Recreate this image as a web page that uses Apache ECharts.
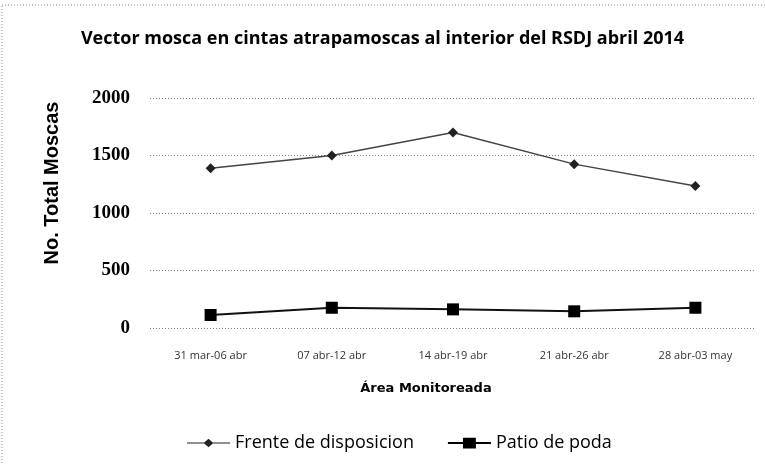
<!DOCTYPE html>
<html>
<head>
<meta charset="utf-8">
<script src="https://cdn.jsdelivr.net/npm/echarts@6/dist/echarts.min.js"></script>
<style>
  html, body { margin: 0; padding: 0; background: #fff; }
  #chart { width: 765px; height: 465px; }
</style>
</head>
<body>
<div id="chart"></div>
<script>
// datos
const categorias = ['31 mar-06 abr', '07 abr-12 abr', '14 abr-19 abr', '21 abr-26 abr', '28 abr-03 may'];
const frente = [1390, 1500, 1700, 1425, 1235];
const patio = [113, 176, 162, 145, 176];
const serieNombres = ['Frente de disposicion', 'Patio de poda'];

const chart = echarts.init(document.getElementById('chart'));
const option = {
    backgroundColor: '#fff',
    animation: false,
    title: {
        text: 'Vector mosca en cintas atrapamoscas al interior del RSDJ abril 2014',
        left: 'center',
        top: 25,
        textStyle: { fontFamily: 'Open Sans', fontWeight: 'bold', fontSize: 18, color: '#000' }
    },
    graphic: [{
        type: 'rect',
        shape: { x: 2, y: 5, width: 770, height: 470 },
        style: { fill: 'none', stroke: '#888', lineWidth: 1, lineDash: [1, 2] }
    }],
    legend: {
        top: 429,
        left: 182,
        itemWidth: 43,
        itemHeight: 12,
        itemGap: 34,
        textStyle: { fontFamily: 'Open Sans', fontSize: 18, color: '#000' },
        data: [
            { name: serieNombres[0], icon: 'path://M0,5.5H16L20,2L24,5.5H40V6.5H24L20,10L16,6.5H0Z' },
            { name: serieNombres[1], icon: 'path://M0,5H14V1H26V5H40V7H26V11H14V7H0Z' }
        ]
    },
    grid: { left: 150, right: 9, top: 98, bottom: 137 },
    xAxis: {
        type: 'category',
        data: categorias,
        name: 'Área Monitoreada',
        nameLocation: 'middle',
        nameGap: 54,
        nameTextStyle: { fontFamily: 'DejaVu Sans', fontWeight: 'bold', fontSize: 13, color: '#000', padding: [0, 54, 0, 0] },
        axisLine: { show: false },
        axisTick: { show: false },
        axisLabel: { fontFamily: 'Open Sans', fontSize: 11, color: '#333', margin: 22 }
    },
    yAxis: {
        type: 'value',
        min: 0,
        max: 2000,
        interval: 500,
        name: 'No. Total Moscas',
        nameLocation: 'middle',
        nameGap: 88,
        nameTextStyle: { fontFamily: 'Liberation Sans', fontWeight: 'bold', fontSize: 20, color: '#000', padding: [0, 0, 0, 60] },
        axisLabel: {
            fontFamily: 'Liberation Serif', fontWeight: 'bold', fontSize: 19, color: '#000', margin: 20,
            formatter: function (v) { return String(v); }
        },
        splitLine: { lineStyle: { color: '#777', type: [1, 2], width: 1 } }
    },
    series: [
        {
            name: serieNombres[0],
            type: 'line',
            data: frente,
            symbol: 'diamond',
            symbolSize: 10,
            lineStyle: { color: '#444', width: 1.5 },
            itemStyle: { color: '#222' }
        },
        {
            name: serieNombres[1],
            type: 'line',
            data: patio,
            symbol: 'rect',
            symbolSize: 12,
            lineStyle: { color: '#111', width: 2 },
            itemStyle: { color: '#000' }
        }
    ]
};
chart.setOption(option);
</script>
</body>
</html>
